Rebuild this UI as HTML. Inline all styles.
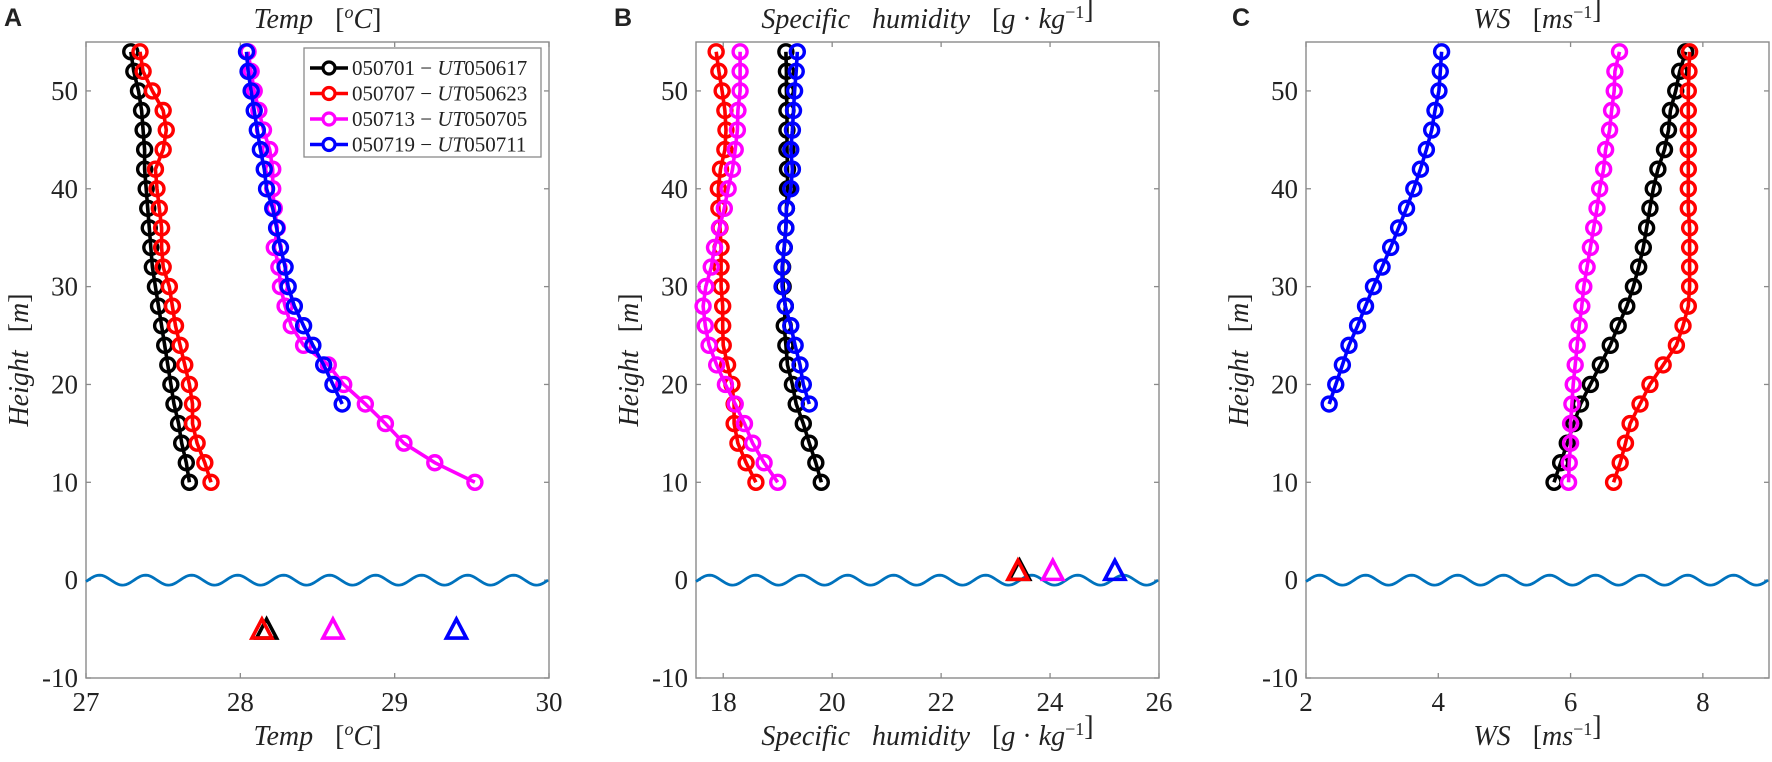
<!DOCTYPE html>
<html><head><meta charset="utf-8"><style>
html,body{margin:0;padding:0;background:#fff;}
svg text{font-family:"Liberation Serif",serif;fill:#222;}
</style></head><body>
<svg id="fig" width="1772" height="757" xmlns="http://www.w3.org/2000/svg"></svg>
<script>
// ---------- data ----------
const heightsFull = [10,12,14,16,18,20,22,24,26,28,30,32,34,36,38,40,42,44,46,48,50,52,54];
const heights18 = [18,20,22,24,26,28,30,32,34,36,38,40,42,44,46,48,50,52,54];
const seriesNames = ["050701","050707","050713","050719"];
const seriesUT = ["UT050617","UT050623","UT050705","UT050711"];
const seriesColors = ["#000000","#ff0000","#ff00ff","#0000ff"];

// Panel A: Temp
const tempBlack = [27.67,27.65,27.62,27.60,27.57,27.55,27.53,27.51,27.49,27.47,27.45,27.43,27.42,27.41,27.40,27.39,27.38,27.38,27.37,27.36,27.34,27.31,27.29];
const tempRed = [27.81,27.77,27.72,27.69,27.69,27.67,27.64,27.61,27.58,27.56,27.54,27.50,27.49,27.49,27.475,27.46,27.45,27.50,27.52,27.50,27.43,27.37,27.35];
const tempMagenta = [29.52,29.26,29.06,28.94,28.81,28.67,28.57,28.41,28.33,28.29,28.26,28.25,28.22,28.24,28.22,28.21,28.21,28.19,28.15,28.12,28.09,28.07,28.05];
const tempBlue = [28.66,28.60,28.54,28.47,28.41,28.35,28.31,28.29,28.26,28.235,28.21,28.17,28.155,28.13,28.11,28.09,28.07,28.05,28.04];
const tempTri = [28.17,28.14,28.60,29.40];
const tempTriH = [-5,-5,-5,-5];

// Panel B: Specific humidity
const shBlack = [19.80,19.70,19.58,19.47,19.34,19.27,19.18,19.15,19.12,19.14,19.10,19.09,19.12,19.15,19.16,19.18,19.18,19.17,19.17,19.17,19.16,19.16,19.15];
const shRed = [18.60,18.42,18.27,18.20,18.20,18.16,18.08,18.00,17.99,17.99,17.96,17.96,17.96,17.94,17.92,17.91,17.95,18.03,18.05,18.03,17.98,17.92,17.87];
const shMagenta = [19.00,18.75,18.54,18.39,18.22,18.04,17.88,17.74,17.67,17.63,17.68,17.78,17.84,17.93,18.02,18.09,18.17,18.22,18.26,18.27,18.31,18.31,18.31];
const shBlue = [19.58,19.47,19.41,19.32,19.24,19.14,19.08,19.08,19.12,19.15,19.16,19.24,19.27,19.24,19.27,19.29,19.31,19.34,19.36];
const shTri = [23.44,23.41,24.05,25.19];
const shTriH = [1,1,1,1];

// Panel C: Wind speed
const wsBlack = [5.75,5.85,5.95,6.05,6.15,6.30,6.45,6.60,6.72,6.85,6.95,7.03,7.10,7.15,7.20,7.25,7.32,7.42,7.48,7.51,7.59,7.65,7.74];
const wsRed = [6.65,6.75,6.83,6.90,7.05,7.20,7.40,7.60,7.70,7.78,7.80,7.80,7.80,7.80,7.78,7.78,7.78,7.78,7.78,7.78,7.78,7.79,7.80];
const wsMagenta = [5.97,5.98,6.00,6.00,6.02,6.04,6.07,6.10,6.13,6.17,6.20,6.25,6.30,6.35,6.40,6.44,6.50,6.53,6.59,6.62,6.66,6.67,6.74];
const wsBlue = [2.35,2.45,2.55,2.65,2.78,2.90,3.02,3.15,3.28,3.40,3.52,3.63,3.73,3.82,3.90,3.95,4.01,4.03,4.05];

const yTicks = [-10,0,10,20,30,40,50];
const xTicksA = [27,28,29,30];
const xTicksB = [18,20,22,24,26];
const xTicksC = [2,4,6,8];

// ---------- helpers ----------
const NS="http://www.w3.org/2000/svg";
const svg=document.getElementById('fig');
function mk(tag,attrs,parent){const e=document.createElementNS(NS,tag);for(const k in attrs)e.setAttribute(k,attrs[k]);(parent||svg).appendChild(e);return e;}
const TOP=42,BOT=678,YMIN=-10,YMAX=55;
function yS(v){return BOT-(v-YMIN)/(YMAX-YMIN)*(BOT-TOP);}

function panel(cfg){
  const g=mk('g',{});
  
  
  const L=cfg.left,R=cfg.left+463;
  const xS=v=>L+(v-cfg.xmin)/(cfg.xmax-cfg.xmin)*(R-L);
  const fr=mk('rect',{x:L,y:TOP,width:R-L,height:BOT-TOP,fill:'none',stroke:'#8a8a8a','stroke-width':1.4},g);
  
  
  yTicks.forEach(t=>{
    const y=yS(t);
    mk('line',{x1:L,x2:L+5,y1:y,y2:y,stroke:'#8a8a8a','stroke-width':1.3},g);
    mk('line',{x1:R,x2:R-5,y1:y,y2:y,stroke:'#8a8a8a','stroke-width':1.3},g);
    const tx=mk('text',{x:L-8,y:y+9,'font-size':27,'text-anchor':'end'},g);
    tx.textContent=t;
    
    
  });
  cfg.xticks.forEach(t=>{
    const x=xS(t);
    mk('line',{x1:x,x2:x,y1:BOT,y2:BOT-5,stroke:'#8a8a8a','stroke-width':1.3},g);
    mk('line',{x1:x,x2:x,y1:TOP,y2:TOP+5,stroke:'#8a8a8a','stroke-width':1.3},g);
    const tx=mk('text',{x:x,y:BOT+33,'font-size':27,'text-anchor':'middle'},g);
    tx.textContent=t;
    
    
  });
  let d='';
  for(let px=0;px<=463;px+=2){const y=yS(0)-5*Math.sin((px-2)/46*2*Math.PI);d+=(px?'L':'M')+(L+px)+','+y.toFixed(1);}
  const wv=mk('path',{d:d,fill:'none',stroke:'#0072bd','stroke-width':2.8},g);
  
  
  cfg.series.forEach((s,i)=>{
    const sg=mk('g',{},g);
    
    
    const pts=s.vals.map((v,k)=>[xS(v),yS(s.h[k])]);
    mk('polyline',{points:pts.map(p=>p[0].toFixed(1)+','+p[1].toFixed(1)).join(' '),fill:'none',stroke:seriesColors[i],'stroke-width':3.6},sg);
    pts.forEach(p=>{
      const c=mk('circle',{cx:p[0],cy:p[1],r:7,fill:'none',stroke:seriesColors[i],'stroke-width':3.4},sg);
      
      
    });
  });
  if(cfg.tri){
    cfg.tri.forEach((v,i)=>{
      const x=xS(v),y=yS(cfg.triH[i]);
      const t=mk('polygon',{points:`${x-10},${y+9} ${x+10},${y+9} ${x},${y-10}`,fill:'none',stroke:seriesColors[i],'stroke-width':3.6},g);
      
      
    });
  }
  const cx=(L+R)/2;
  const tt=mk('text',{x:cx,y:28,'font-size':28,'text-anchor':'middle','font-style':'italic'},g);
  tt.innerHTML=cfg.title;
  
  
  const xl=mk('text',{x:cx,y:745,'font-size':28,'text-anchor':'middle','font-style':'italic'},g);
  xl.innerHTML=cfg.title;
  
  
  const yl=mk('text',{x:0,y:0,'font-size':28,'text-anchor':'middle','font-style':'italic',transform:`translate(${cfg.ylx},${(TOP+BOT)/2}) rotate(-90)`},g);
  yl.innerHTML='Height<tspan dx="18" font-style="normal">[</tspan>m<tspan font-style="normal">]</tspan>';
  
  
  const pl=mk('text',{x:cfg.lx,y:26,'font-size':25,'font-weight':'bold'},g);
  pl.setAttribute('style','font-family:"Liberation Sans",sans-serif');
  pl.textContent=cfg.letter;
  
  
}

const unitSpan=(s)=>'<tspan dx="22" font-style="normal">[</tspan>'+s+'<tspan font-style="normal">]</tspan>';
panel({id:'temp',letter:'A',lx:4,left:86,xmin:27,xmax:30,xticks:xTicksA,ylx:28,
  title:'Temp'+unitSpan('<tspan font-size="18" dy="-10">o</tspan><tspan dy="10">C</tspan>'),
  series:[{vals:tempBlack,h:heightsFull},{vals:tempRed,h:heightsFull},{vals:tempMagenta,h:heightsFull},{vals:tempBlue,h:heights18}],
  tri:tempTri,triH:tempTriH});
panel({id:'humidity',letter:'B',lx:614,left:696,xmin:17.5,xmax:26,xticks:xTicksB,ylx:638,
  title:'Specific<tspan dx="22">humidity</tspan>'+unitSpan('g <tspan font-style="normal">·</tspan> kg<tspan font-size="18" dy="-10" font-style="normal">−1</tspan><tspan dy="10"></tspan>'),
  series:[{vals:shBlack,h:heightsFull},{vals:shRed,h:heightsFull},{vals:shMagenta,h:heightsFull},{vals:shBlue,h:heights18}],
  tri:shTri,triH:shTriH});
panel({id:'windspeed',letter:'C',lx:1232,left:1306,xmin:2,xmax:9,xticks:xTicksC,ylx:1248,
  title:'WS'+unitSpan('ms<tspan font-size="18" dy="-10" font-style="normal">−1</tspan><tspan dy="10"></tspan>'),
  series:[{vals:wsBlack,h:heightsFull},{vals:wsRed,h:heightsFull},{vals:wsMagenta,h:heightsFull},{vals:wsBlue,h:heights18}]});

const lg=mk('g',{});


mk('rect',{x:304,y:48,width:237,height:109,fill:'#fff',stroke:'#8a8a8a','stroke-width':1.3},lg);
seriesNames.forEach((n,i)=>{
  const y=68+i*25.5;
  const e=mk('g',{},lg);
  
  
  mk('line',{x1:310,x2:348,y1:y,y2:y,stroke:seriesColors[i],'stroke-width':3.6},e);
  mk('circle',{cx:329,cy:y,r:6,fill:'#fff',stroke:seriesColors[i],'stroke-width':3.2},e);
  const t=mk('text',{x:352,y:y+7,'font-size':21},e);
  t.innerHTML=n+' − <tspan font-style="italic">UT</tspan>'+seriesUT[i].slice(2);
});
</script>
</body></html>
